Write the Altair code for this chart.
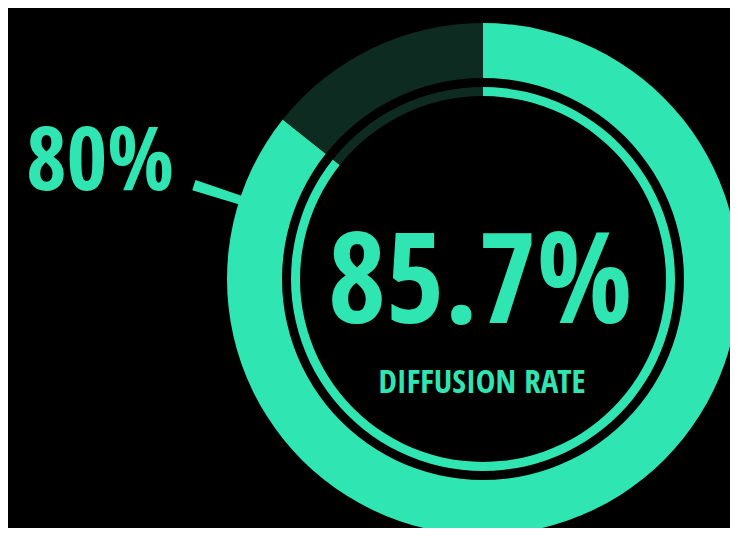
import math
import altair as alt
import pandas as pd

# ---- data ----
categories = ["Diffused", "Not diffused"]
values = [85.7, 14.3]
marker_value = [80]
center_label = ["DIFFUSION RATE"]

TEAL = "#2fe6b3"
DARK = "#0d2b21"
FONT = "'Open Sans Condensed', 'Roboto Condensed', sans-serif"

starts, ends, acc = [], [], 0.0
for v in values:
    starts.append(acc)
    acc += v
    ends.append(acc)
ring = pd.DataFrame({"cat": categories, "start": starts, "end": ends})
mark_df = pd.DataFrame({"v": marker_value})
main_txt = pd.DataFrame({"t": [f"{values[0]}%"]})
sub_txt = pd.DataFrame({"t": center_label})
mark_txt = pd.DataFrame({"t": [f"{marker_value[0]}%"]})

W, H = 722, 520
CX, CY = 475, 271

theta_scale = alt.Scale(domain=[0, 100], range=[0, 2 * math.pi])
color_scale = alt.Scale(domain=categories, range=[TEAL, DARK])

outer = alt.Chart(ring).mark_arc(radius=256, radius2=201).encode(
    theta=alt.Theta("start:Q", scale=theta_scale, stack=None),
    theta2="end:Q",
    color=alt.Color("cat:N", scale=color_scale, legend=None),
    x=alt.value(CX), y=alt.value(CY),
)

inner = alt.Chart(ring).mark_arc(radius=192, radius2=183).encode(
    theta=alt.Theta("start:Q", scale=theta_scale, stack=None),
    theta2="end:Q",
    color=alt.Color("cat:N", scale=color_scale, legend=None),
    x=alt.value(CX), y=alt.value(CY),
)

pointer = alt.Chart(mark_df).transform_calculate(
    a="datum.v - 0.28", b="datum.v + 0.28"
).mark_arc(radius=304, radius2=254, color=TEAL).encode(
    theta=alt.Theta("a:Q", scale=theta_scale, stack=None),
    theta2="b:Q",
    x=alt.value(CX), y=alt.value(CY),
)

t_main = alt.Chart(main_txt).mark_text(
    font=FONT, fontSize=126, fontWeight="bold", color=TEAL,
    align="center", baseline="alphabetic",
).encode(text="t:N", x=alt.value(472), y=alt.value(315))

t_sub = alt.Chart(sub_txt).mark_text(
    font=FONT, fontSize=33, fontWeight="bold", color=TEAL,
    align="center", baseline="alphabetic",
).encode(text="t:N", x=alt.value(474), y=alt.value(385))

t_mark = alt.Chart(mark_txt).mark_text(
    font=FONT, fontSize=88, fontWeight="bold", color=TEAL,
    align="center", baseline="alphabetic",
).encode(text="t:N", x=alt.value(92), y=alt.value(182))

chart = alt.layer(outer, inner, pointer, t_main, t_sub, t_mark).properties(
    width=W, height=H, padding=0, autosize=alt.AutoSizeParams(type="none")
).configure(background="black").configure_view(strokeWidth=0)

chart.save("out.html", embed_options={"renderer": "svg", "actions": False})
